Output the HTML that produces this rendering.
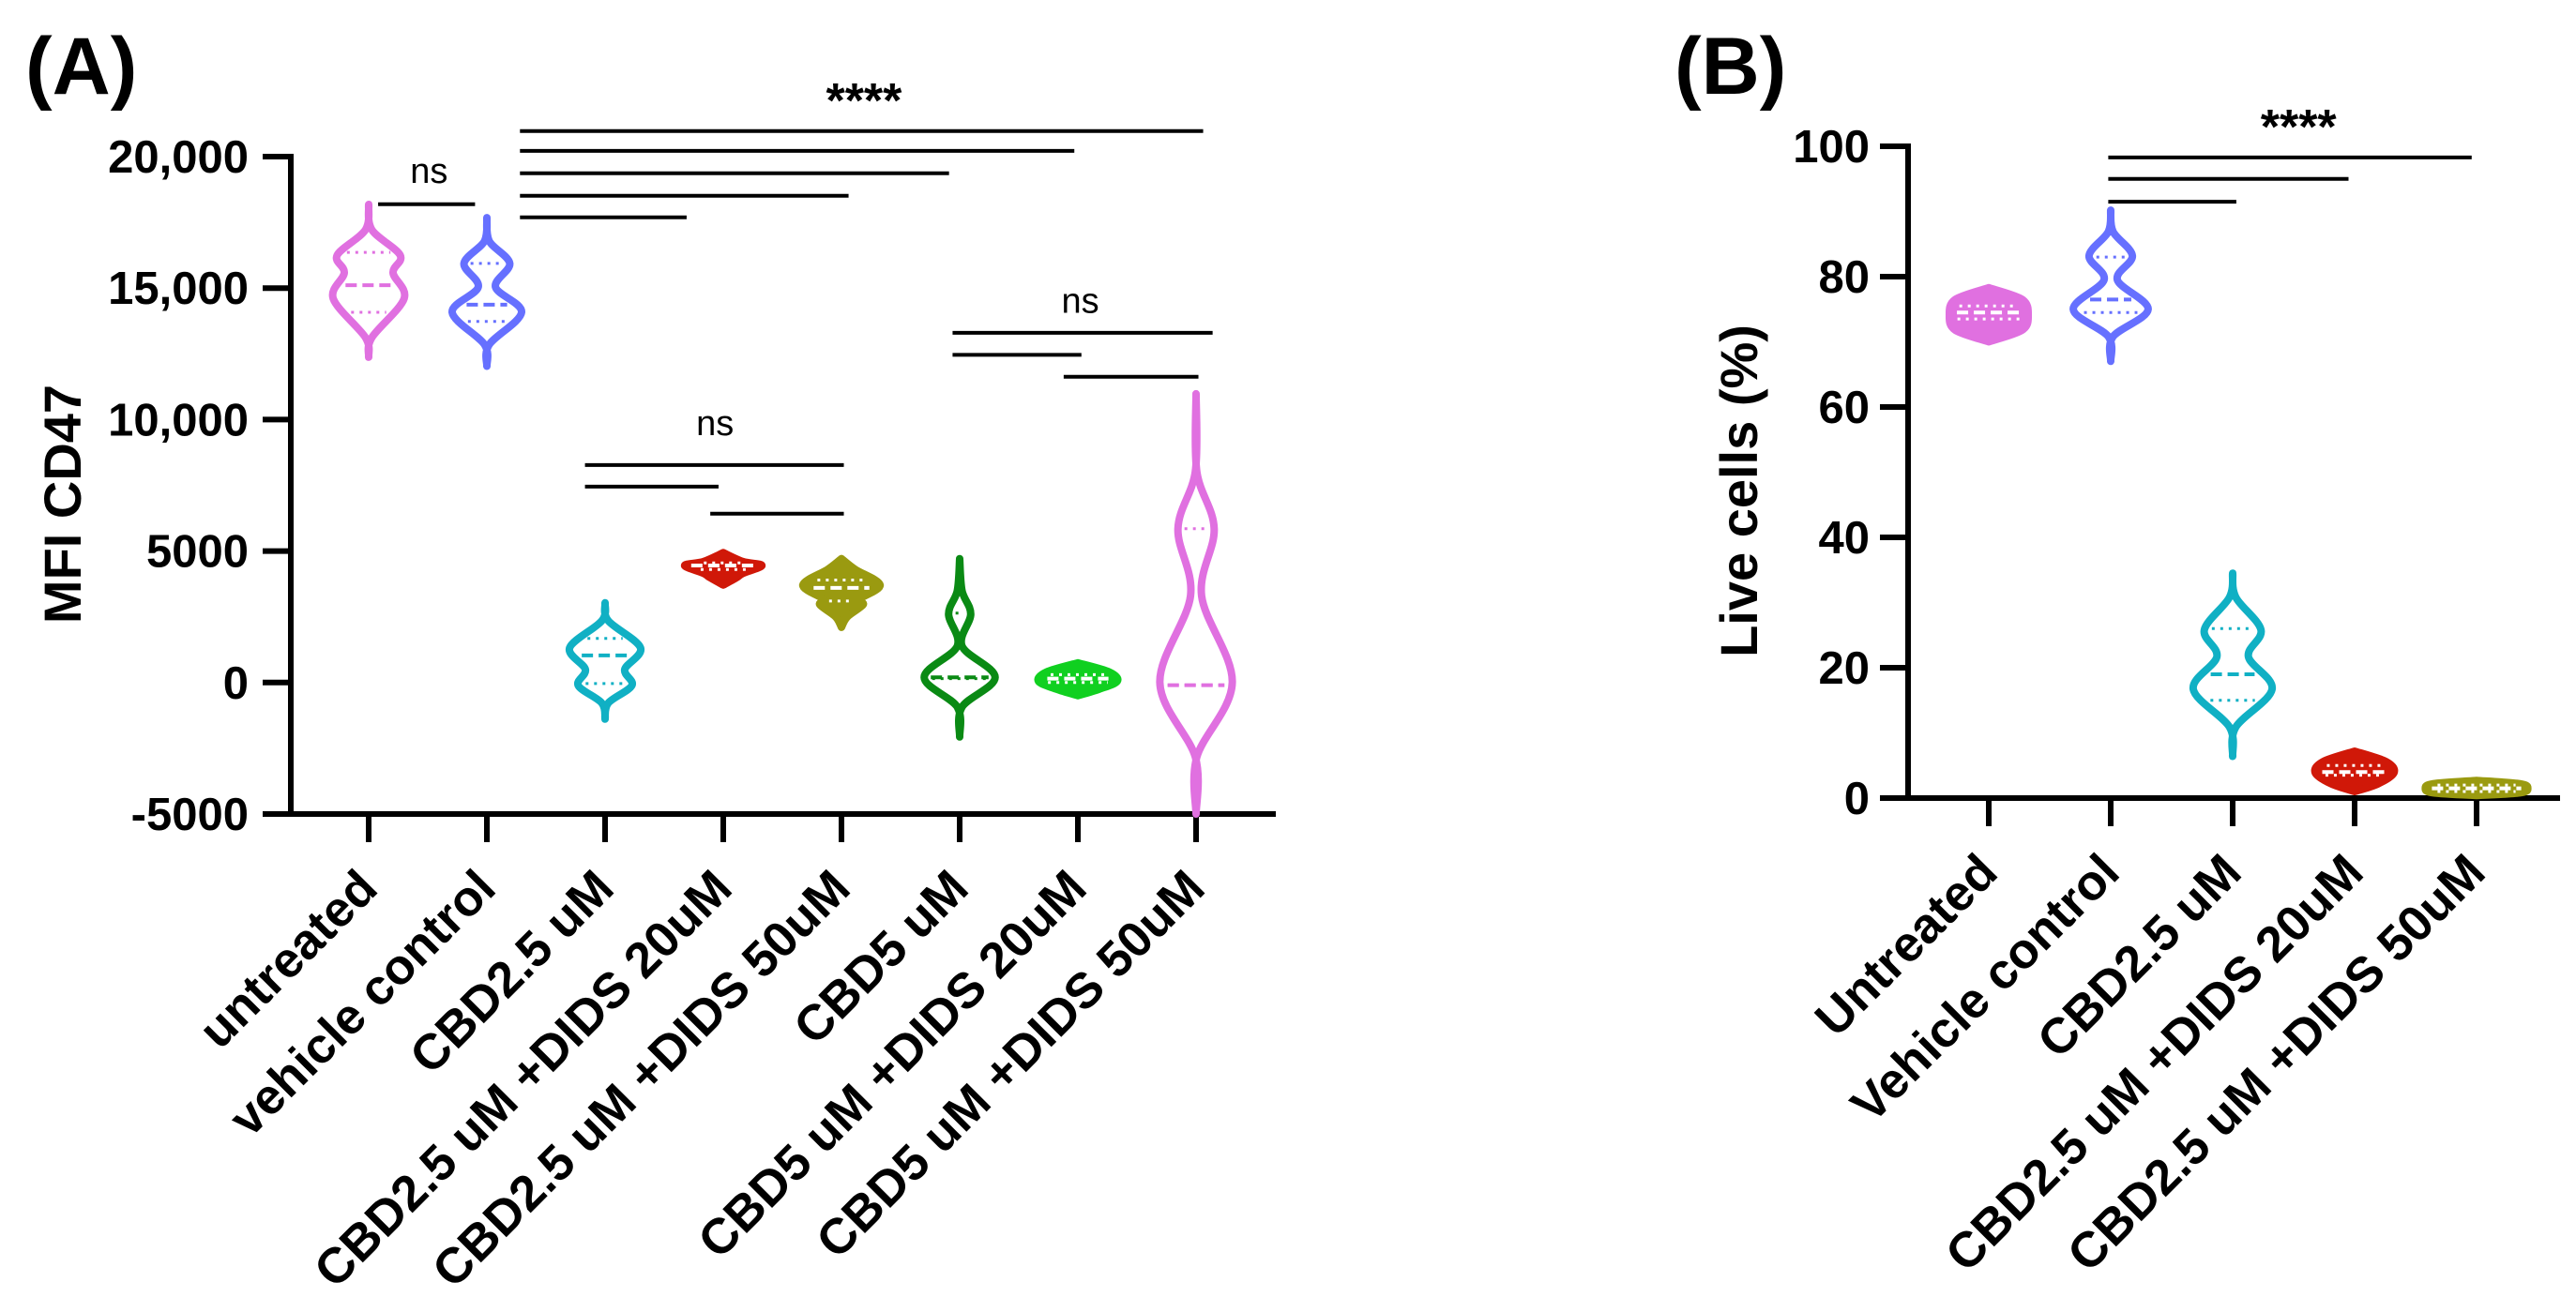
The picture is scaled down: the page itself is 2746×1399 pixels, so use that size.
<!DOCTYPE html>
<html><head><meta charset="utf-8">
<style>
html,body{margin:0;padding:0;background:#fff;}
svg{display:block;font-family:"Liberation Sans",Arial,sans-serif;}
</style></head>
<body>
<svg id="fig" width="2746" height="1399" viewBox="0 0 2746 1399" xmlns="http://www.w3.org/2000/svg">
<rect width="2746" height="1399" fill="#fff"/>
<text x="27" y="100" font-size="86" font-weight="bold">(A)</text>
<text x="1785" y="100" font-size="86" font-weight="bold">(B)</text>
<g id="gA"></g>
<g id="gB"></g>
</svg>
<script>
// ---------- Panel A data ----------
const catsA = ["untreated","vehicle control","CBD2.5 uM","CBD2.5 uM +DIDS 20uM","CBD2.5 uM +DIDS 50uM","CBD5 uM","CBD5 uM +DIDS 20uM","CBD5 uM +DIDS 50uM"];
const colorsA = ["#e070e0","#6670ff","#10b0c4","#d01808","#9a9a10","#0a8a14","#10d020","#e070e0"];
const filledA = [false,false,false,true,true,false,true,false];
const ticksA = [20000,15000,10000,5000,0,-5000];
const tickLabelsA = ["20,000","15,000","10,000","5000","0","-5000"];
const valsA = [
 [18180,17220,16250,15580,14600,13120,12370],
 [17680,16790,15940,15040,14080,12850,12030],
 [3030,2350,1320,500,-110,-780,-1390],
 [4940,4600,4450,4150,4000,3710],
 [4710,4300,3710,3160,2960,2500,2100],
 [4710,3490,2600,1390,200,-930,-2070],
 [750,400,50,-250,-500],
 [10980,8020,5850,3300,0,-2830,-5000]
];
const densA = [
 [0,0.08,0.8,0.62,0.9,0.08,0],
 [0,0.06,0.58,0.22,0.88,0.06,0],
 [0,0.08,0.9,0.5,0.68,0.08,0],
 [0,0.5,0.98,0.5,0.35,0],
 [0,0.35,0.98,0.45,0.55,0.15,0],
 [0,0.06,0.28,0.06,0.9,0.06,0],
 [0,0.8,1.0,0.55,0],
 [0,0.02,0.46,0.14,0.92,0.02,0]
];
const quartA = [[16360,15110,14080],[15940,14370,13730],[1680,1030,-40],[4550,4450,4300],[3900,3600,3100],[2640,200,150],[300,150,0],[5850,-100,-100]];
const sigBarsA = [ // [yValue, xStartCat, xEndCat]
 [20970,1.28,7.06],[20220,1.28,5.97],[19365,1.28,4.91],[18510,1.28,4.06],[17690,1.28,2.69],
 [18190,0.08,0.9],
 [8270,1.83,4.02],[7450,1.83,2.96],[6420,2.89,4.02],
 [13300,4.94,7.14],[12460,4.94,6.03],[11630,5.88,7.02]
];
const sigTextA = [["****",4.19,21500,true],["ns",0.51,19000,false],["ns",2.93,9400,false],["ns",6.02,14060,false]];

// ---------- Panel B data ----------
const catsB = ["Untreated","Vehicle control","CBD2.5 uM","CBD2.5 uM +DIDS 20uM","CBD2.5 uM +DIDS 50uM"];
const colorsB = ["#e070e0","#6670ff","#10b0c4","#d01808","#9a9a10"];
const filledB = [true,false,false,true,true];
const ticksB = [100,80,60,40,20,0];
const tickLabelsB = ["100","80","60","40","20","0"];
const valsB = [
 [78.3,76.5,74.1,71.8,70],
 [90.2,86.9,83.2,79.5,75,70.8,67],
 [34.5,30.8,25.8,21.7,16.7,10.9,6.4],
 [7.2,5.6,3.9,2.2,1],
 [2.7,2.2,1.5,0.8,0.4]
];
const densB = [
 [0,0.85,1.0,0.85,0],
 [0,0.06,0.55,0.17,0.95,0.06,0],
 [0,0.08,0.72,0.4,1.0,0.08,0],
 [0,0.8,1.0,0.6,0],
 [0,1.1,1.3,1.1,0]
];
const quartB = [[75.5,74.5,73.5],[83,76.5,74.5],[26,19,15],[5,4,3.5],[2,1.5,1]];
const sigBarsB = [[98.3,0.98,3.96],[95,0.98,2.95],[91.5,0.98,2.03]];
const sigTextB = [["****",2.54,100.4,true]];

const NS = "http://www.w3.org/2000/svg";
function mk(parent, tag, attrs){ const e=document.createElementNS(NS,tag); for(const k in attrs) e.setAttribute(k,attrs[k]); parent.appendChild(e); return e; }

function smoothSide(pts){
  let d="";
  for(let i=0;i<pts.length-1;i++){
    const p0=pts[Math.max(0,i-1)],p1=pts[i],p2=pts[i+1],p3=pts[Math.min(pts.length-1,i+2)];
    const c1=[p1[0]+(p2[0]-p0[0])/6,p1[1]+(p2[1]-p0[1])/6];
    const c2=[p2[0]-(p3[0]-p1[0])/6,p2[1]-(p3[1]-p1[1])/6];
    d+=` C${c1[0].toFixed(1)},${c1[1].toFixed(1)} ${c2[0].toFixed(1)},${c2[1].toFixed(1)} ${p2[0].toFixed(1)},${p2[1].toFixed(1)}`;
  }
  return d;
}
function interpDens(vals,dens,v){
  for(let i=0;i<vals.length-1;i++){
    const a=vals[i],b=vals[i+1];
    if((v<=a&&v>=b)){ const t=(a-v)/(a-b||1); return dens[i]+(dens[i+1]-dens[i])*t; }
  }
  return 0;
}

function drawPanel(g, cfg){
  const {x0,x1,yTop,yBot,vTop,vBot,cats,colors,filled,ticks,tickLabels,vals,dens,quart,bars,texts,catX0,catStep,maxHW,title,titleX,labelRight} = cfg;
  const yS = v => yBot - (v-vBot)/(vTop-vBot)*(yBot-yTop);
  const xS = c => catX0 + c*catStep;
  const ya=mk(g,"line",{x1:x0,y1:yTop-3,x2:x0,y2:yBot+3,stroke:"#000","stroke-width":6});
   
  const xa=mk(g,"line",{x1:x0-3,y1:yBot,x2:x1,y2:yBot,stroke:"#000","stroke-width":6});
   
  ticks.forEach((t,i)=>{
    const y=yS(t);
    const tl=mk(g,"line",{x1:x0-30,y1:y,x2:x0,y2:y,stroke:"#000","stroke-width":6});
     
    const tx=mk(g,"text",{x:labelRight,y:y+17,"font-size":49,"font-weight":"bold","text-anchor":"end"});
    tx.textContent=tickLabels[i];
     
  });
  const tt=mk(g,"text",{x:0,y:0,"font-size":56,"font-weight":"bold","text-anchor":"middle",transform:`translate(${titleX},${(yTop+yBot)/2+20}) rotate(-90)`});
  tt.textContent=title;
   
  cats.forEach((c,i)=>{
    const x=xS(i);
    const tk=mk(g,"line",{x1:x,y1:yBot,x2:x,y2:yBot+30,stroke:"#000","stroke-width":6});
     
    const lb=mk(g,"text",{x:0,y:0,"font-size":53,"font-weight":"bold","text-anchor":"end",transform:`translate(${x+12},${yBot+82}) rotate(-45)`});
    lb.textContent=c;
     
  });
  vals.forEach((vs,i)=>{
    const cx=xS(i), col=colors[i];
    const right=vs.map((v,k)=>[cx+dens[i][k]*maxHW, yS(v)]);
    const left=vs.map((v,k)=>[cx-dens[i][k]*maxHW, yS(v)]).reverse();
    const d=`M${right[0][0].toFixed(1)},${right[0][1].toFixed(1)}`+smoothSide(right)+smoothSide([right[right.length-1]].concat(left.slice(1)))+" Z";
    const p=mk(g,"path",{d:d,fill:filled[i]?col:"none",stroke:col,"stroke-width":8,"stroke-linejoin":"round","stroke-linecap":"round"});
     
    const qc=filled[i]?"#fff":col;
    quart[i].forEach((q,k)=>{
      const hw=Math.max(3,interpDens(vs,dens[i],q)*maxHW-7);
      const y=yS(q);
      const ql=mk(g,"line",{x1:cx-hw,y1:y,x2:cx+hw,y2:y,stroke:qc,"stroke-width":k===1?4:3,"stroke-dasharray":k===1?"12,6":"3,6"});
       
    });
  });
  bars.forEach(b=>{
    const l=mk(g,"line",{x1:xS(b[1]),y1:yS(b[0]),x2:xS(b[2]),y2:yS(b[0]),stroke:"#000","stroke-width":4});
     
  });
  texts.forEach(t=>{
    const e=mk(g,"text",{x:xS(t[1]),y:yS(t[2]),"font-size":t[3]?52:38,"font-weight":t[3]?"bold":"normal","text-anchor":"middle"});
    e.textContent=t[0];
     
  });
}

drawPanel(document.getElementById("gA"),{
  x0:310,x1:1360,yTop:167,yBot:868,vTop:20000,vBot:-5000,
  cats:catsA,colors:colorsA,filled:filledA,ticks:ticksA,tickLabels:tickLabelsA,
  vals:valsA,dens:densA,quart:quartA,bars:sigBarsA,texts:sigTextA,
  catX0:393,catStep:126,maxHW:42,title:"MFI CD47",titleX:86,labelRight:265
});
drawPanel(document.getElementById("gB"),{
  x0:2034,x1:2729,yTop:156,yBot:851,vTop:100,vBot:0,
  cats:catsB,colors:colorsB,filled:filledB,ticks:ticksB,tickLabels:tickLabelsB,
  vals:valsB,dens:densB,quart:quartB,bars:sigBarsB,texts:sigTextB,
  catX0:2120,catStep:130,maxHW:42,title:"Live cells (%)",titleX:1873,labelRight:1993
});
</script>
</body></html>
